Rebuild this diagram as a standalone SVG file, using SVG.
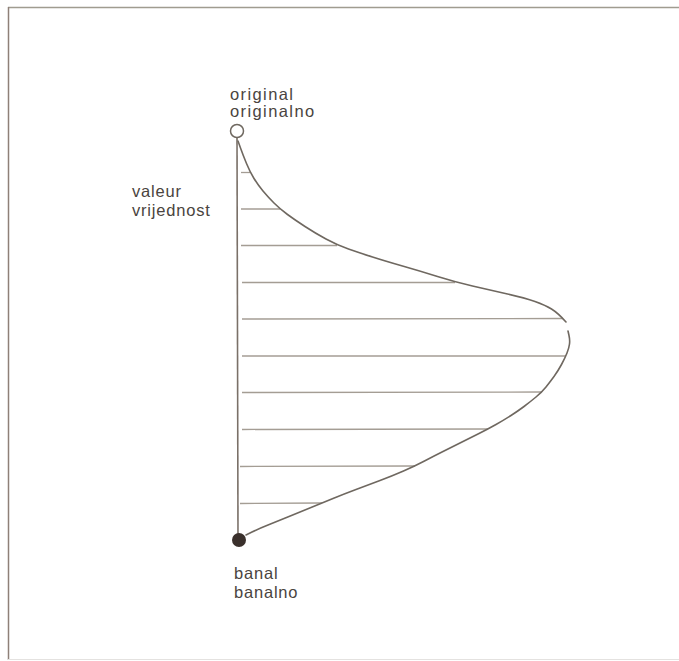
<svg xmlns="http://www.w3.org/2000/svg" width="679" height="661" viewBox="0 0 679 661">
<style>
.lbl{font-family:"Liberation Sans",Arial,sans-serif;font-size:16.5px;letter-spacing:0.8px;fill:#4a4440}
.wide{letter-spacing:1.4px}
.hatch{stroke:#a49d94;stroke-width:1.3;fill:none}
.curve{stroke:#6f6860;stroke-width:1.6;fill:none;stroke-linejoin:round;stroke-linecap:round}
</style>
<rect width="679" height="661" fill="#ffffff"/>
<g id="frame">
<line x1="8" y1="7.5" x2="679" y2="7.5" stroke="#a09c90" stroke-width="1.5"/>
<line x1="8.5" y1="7" x2="8.5" y2="660" stroke="#8e8078" stroke-width="1.5"/>
<line x1="8" y1="659.5" x2="679" y2="659.5" stroke="#e4e2e0" stroke-width="1"/>
</g>
<g id="connectors">
<line x1="237" y1="137" x2="238" y2="536" stroke="#7a7068" stroke-width="1.6"/>
<g class="hatch">
<line x1="241" y1="172.5" x2="250" y2="172.5"/>
<line x1="241" y1="209" x2="280" y2="209"/>
<line x1="241" y1="245.5" x2="337" y2="245.5"/>
<line x1="242" y1="282.5" x2="455" y2="282.5"/>
<line x1="242" y1="319" x2="563" y2="318.5"/>
<line x1="242" y1="356" x2="566" y2="356"/>
<line x1="242" y1="392.5" x2="542" y2="392"/>
<line x1="242" y1="429.5" x2="488" y2="429"/>
<line x1="240" y1="466.5" x2="415" y2="466"/>
<line x1="240" y1="503.5" x2="322" y2="503"/>
</g>
<path class="curve" d="M238,141 L240.5,148 Q243,155 246.5,163.5 Q250,172 254,178.5 Q258,185 263,191 Q268,197 274,203 Q280,209 287.5,214.5 Q295,220 305,226.5 Q315,233 326,239 Q337,245 348.5,249 Q360,253 372.5,257 Q385,261 402.5,266 Q420,271 437.5,276.5 Q455,282 472.5,286 Q490,290 507.5,294 Q525,298 535,301.5 Q545,305 551.5,309 Q558,313 566,322"/>
<path class="curve" d="M568,331 L569,335.5 Q570,340 569.5,344 Q569,348 567,353 Q565,358 561.5,364.5 Q558,371 554,376.5 Q550,382 546,387 Q542,392 536,397 Q530,402 524,406.5 Q518,411 511,415.5 Q504,420 496,424.5 Q488,429 479,433.5 Q470,438 461,442.5 Q452,447 443,451.5 Q434,456 424.5,461 Q415,466 403.5,471 Q392,476 380,480.5 Q368,485 356,489.5 Q344,494 333,498.5 Q322,503 311,507.5 Q300,512 289,516.5 Q278,521 268,525 Q258,529 252,532 L246,535"/>
</g>
<g id="node-original">
<circle cx="237" cy="131" r="6.5" fill="#ffffff" stroke="#6f6860" stroke-width="1.5"/>
<text class="lbl wide" x="230" y="100">original</text>
<text class="lbl wide" x="230" y="117">originalno</text>
</g>
<g id="node-valeur">
<text class="lbl" x="132" y="197">valeur</text>
<text class="lbl" x="132" y="216">vrijednost</text>
</g>
<g id="node-banal">
<circle cx="239" cy="540" r="7" fill="#3a302c"/>
<text class="lbl" x="234" y="579">banal</text>
<text class="lbl" x="234" y="598">banalno</text>
</g>
</svg>
